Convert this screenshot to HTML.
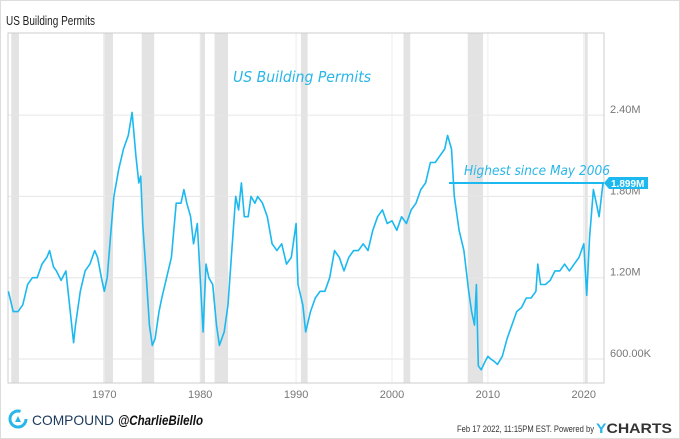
<!DOCTYPE html>
<html><head><meta charset="utf-8"><style>
body{margin:0;width:680px;height:439px;background:#fff;overflow:hidden;font-family:"Liberation Sans",sans-serif;}
svg{display:block}
</style></head><body>
<svg width="680" height="439">
<rect x="0.5" y="0.5" width="679" height="438" fill="#fff" stroke="#ddd"/>
<text x="6" y="25" font-size="13" fill="#222" textLength="89" lengthAdjust="spacingAndGlyphs">US Building Permits</text>
<g id="rec"></g><g id="grid"></g>
<rect x="8" y="33" width="596" height="350" fill="none" stroke="#ccc"/>
<g id="xt"></g><g id="yt"></g>
<path id="line" fill="none" stroke="#1bb9f0" stroke-width="1.6" stroke-linejoin="round"/>
<text x="233" y="82" font-size="15" fill="#29b6e8" font-style="italic" textLength="138" lengthAdjust="spacingAndGlyphs" style="font-family:'DejaVu Sans',sans-serif">US Building Permits</text>
<text x="464" y="175" font-size="13" fill="#29b6e8" font-style="italic" textLength="146" lengthAdjust="spacingAndGlyphs" style="font-family:'DejaVu Sans',sans-serif">Highest since May 2006</text>
<line id="hl" x1="449" x2="604" stroke="#1bb9f0" stroke-width="2"/>
<g id="lastlab"><polygon id="lp" fill="#1bb9f0"/><text id="lt" font-size="10" font-weight="bold" fill="#fff">1.899M</text></g>
<g>
<circle cx="18" cy="419" r="8" fill="none" stroke="#29b6e8" stroke-width="3" stroke-dasharray="40 10"/>
<polygon points="15,422 18,416 21,422" fill="#29b6e8"/>
<text x="32" y="425" font-size="14" fill="#1d3a5c" textLength="82" lengthAdjust="spacingAndGlyphs">COMPOUND</text>
<text x="118" y="425" font-size="14" fill="#111" font-style="italic" font-weight="bold" textLength="85" lengthAdjust="spacingAndGlyphs">@CharlieBilello</text>
</g>
<text x="457" y="432" font-size="9" fill="#333" textLength="137" lengthAdjust="spacingAndGlyphs">Feb 17 2022, 11:15PM EST.  Powered by</text>
<text x="596" y="433" font-size="14" font-weight="bold" fill="#333" textLength="76" lengthAdjust="spacingAndGlyphs"><tspan fill="#29b6e8">Y</tspan>CHARTS</text>
</svg>
<script>
const years=[1960,1960.5,1961,1961.5,1962,1962.5,1963,1963.5,1964,1964.3,1964.7,1965,1965.5,1966,1966.3,1966.8,1967,1967.5,1968,1968.5,1969,1969.3,1969.7,1970,1970.3,1970.7,1971,1971.5,1972,1972.5,1972.9,1973.3,1973.6,1973.8,1974,1974.3,1974.7,1975,1975.3,1975.7,1976,1976.5,1977,1977.5,1978,1978.3,1978.6,1979,1979.3,1979.7,1980,1980.3,1980.6,1980.9,1981.3,1981.7,1982,1982.5,1982.9,1983.3,1983.7,1984,1984.3,1984.6,1985,1985.3,1985.7,1986,1986.5,1987,1987.5,1988,1988.5,1989,1989.5,1990,1990.2,1990.7,1991,1991.5,1992,1992.5,1993,1993.5,1994,1994.5,1995,1995.5,1996,1996.5,1997,1997.5,1998,1998.5,1999,1999.5,2000,2000.5,2001,2001.5,2002,2002.5,2003,2003.5,2004,2004.5,2005,2005.5,2005.8,2006.2,2006.5,2007,2007.5,2008,2008.3,2008.6,2008.8,2009,2009.3,2009.7,2010,2010.3,2010.7,2011,2011.5,2012,2012.5,2013,2013.5,2014,2014.5,2015,2015.2,2015.5,2016,2016.5,2017,2017.5,2018,2018.5,2019,2019.5,2020,2020.3,2020.6,2021,2021.3,2021.6,2022];
const permits=[1.10,0.95,0.95,1.00,1.15,1.20,1.20,1.30,1.35,1.40,1.28,1.25,1.18,1.25,1.05,0.72,0.85,1.10,1.25,1.30,1.40,1.35,1.20,1.10,1.20,1.55,1.80,2.00,2.15,2.25,2.42,2.10,1.90,1.95,1.60,1.30,0.85,0.70,0.75,0.95,1.05,1.20,1.35,1.75,1.75,1.85,1.75,1.65,1.45,1.60,1.20,0.80,1.30,1.20,1.15,0.85,0.70,0.80,1.00,1.40,1.80,1.70,1.90,1.65,1.65,1.80,1.75,1.80,1.75,1.65,1.45,1.40,1.45,1.30,1.35,1.60,1.15,1.00,0.80,0.95,1.05,1.10,1.10,1.20,1.40,1.35,1.25,1.35,1.40,1.40,1.45,1.40,1.55,1.65,1.70,1.60,1.62,1.55,1.65,1.60,1.70,1.75,1.85,1.90,2.05,2.05,2.10,2.15,2.25,2.15,1.80,1.55,1.40,1.10,0.95,0.85,1.15,0.55,0.52,0.58,0.62,0.60,0.58,0.56,0.62,0.75,0.85,0.95,0.98,1.05,1.05,1.10,1.30,1.15,1.15,1.18,1.25,1.25,1.30,1.25,1.30,1.35,1.45,1.07,1.50,1.85,1.75,1.65,1.899];
const recessions=[[1960.3,1961.1],[1969.9,1970.9],[1973.9,1975.2],[1980.0,1980.5],[1981.5,1982.9],[1990.5,1991.2],[2001.2,2001.9],[2007.9,2009.5],[2020.1,2020.3]];
const yTicks=[0.6,1.2,1.8,2.4];
const yTickLabels=["600.00K","1.20M","1.80M","2.40M"];
const xTicks=[1970,1980,1990,2000,2010,2020];
const lastLabel="1.899M";
const X=t=>8.4+(t-1960)*9.59;
const Y=v=>359-(v-0.6)/0.6*81.3;
const NS="http://www.w3.org/2000/svg";
function mk(tag,attrs,parent){const e=document.createElementNS(NS,tag);for(const k in attrs)e.setAttribute(k,attrs[k]);document.getElementById(parent).appendChild(e);return e;}
recessions.forEach(r=>{const e=mk('rect',{x:X(r[0]),y:33,width:Math.max(3,X(r[1])-X(r[0])),height:350,fill:'#e3e3e3'},'rec');

});
yTicks.forEach((v,i)=>{const l=mk('line',{x1:8,x2:604,y1:Y(v),y2:Y(v),stroke:'#e6e6e6'},'grid');


const t=mk('text',{x:610,y:Y(v)-2,'font-size':11,fill:'#777'},'yt');t.textContent=yTickLabels[i];

});
xTicks.forEach(y=>{const l=mk('line',{x1:X(y),x2:X(y),y1:33,y2:383,stroke:'#ececec'},'grid');


const t=mk('text',{x:X(y),y:398,'font-size':11,fill:'#777','text-anchor':'middle'},'xt');t.textContent=y;

});
document.getElementById('line').setAttribute('d',years.map((t,i)=>(i?'L':'M')+X(t).toFixed(1)+','+Y(permits[i]).toFixed(1)).join(''));
const ly=Y(permits[permits.length-1]);
const hl=document.getElementById('hl');hl.setAttribute('y1',ly);hl.setAttribute('y2',ly);
document.getElementById('lp').setAttribute('points',`604,${ly} 609,${ly-6} 648,${ly-6} 648,${ly+6} 609,${ly+6}`);
const lt=document.getElementById('lt');lt.setAttribute('x',611);lt.setAttribute('y',ly+4);lt.textContent=lastLabel;
</script>
</body></html>
